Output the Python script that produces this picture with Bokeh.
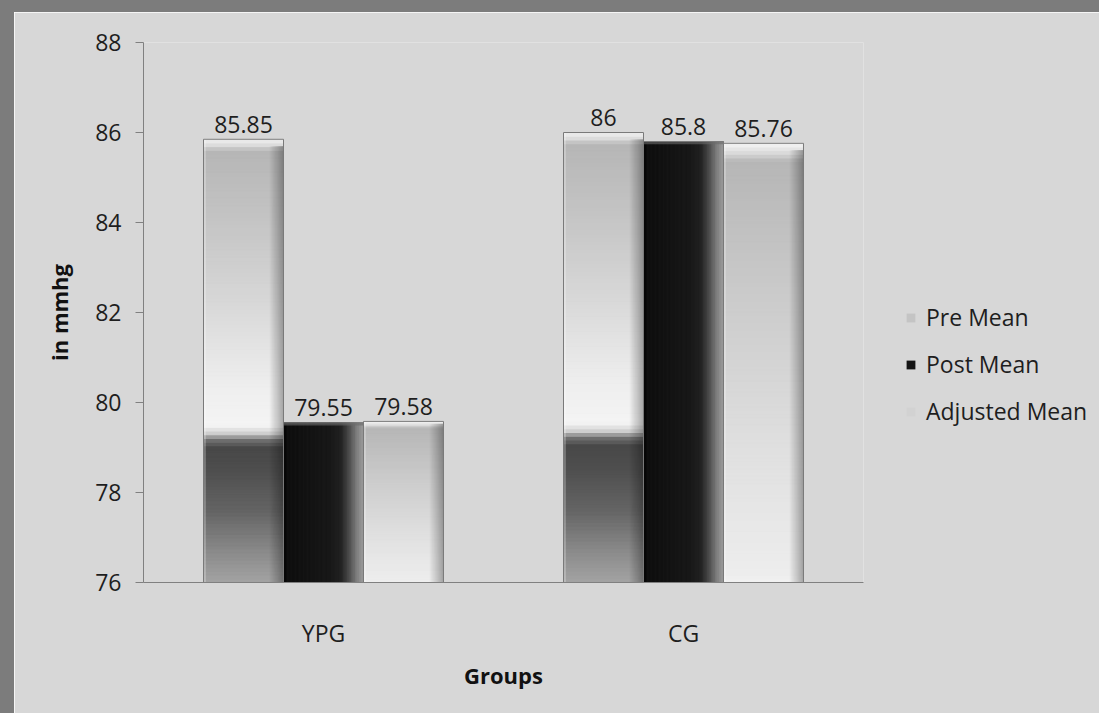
from bokeh.plotting import figure
from bokeh.models import ColumnDataSource, FixedTicker, Legend, LegendItem, Range1d
from bokeh.embed import file_html
from bokeh.resources import INLINE
from bokeh.core.properties import value

# ---------------- data ----------------
groups = ["YPG", "CG"]
series = ["Pre Mean", "Post Mean", "Adjusted Mean"]
pre_mean = [85.85, 86.0]
post_mean = [79.55, 85.8]
adjusted_mean = [79.58, 85.76]
y_ticks = [76, 78, 80, 82, 84, 86, 88]
y_min, y_max = 76, 88

FONT = "Open Sans"
BG = "#d7d7d7"
FS = "23px"
FRAME_TOP, FRAME_LEFT = 12, 14

p = figure(frame_width=720, frame_height=540, output_backend="svg", toolbar_location=None,
           x_range=Range1d(0, len(groups)), y_range=Range1d(y_min, y_max),
           min_border_left=143 - FRAME_LEFT, min_border_right=232, min_border_top=42 - FRAME_TOP,
           min_border_bottom=131)
p.background_fill_color = BG
p.border_fill_color = BG
p.outline_line_color = None
p.grid.visible = False
p.styles = {"border-top": f"{FRAME_TOP}px solid #7c7c7c",
            "border-left": f"{FRAME_LEFT}px solid #7c7c7c"}


def hex2rgb(h):
    return tuple(int(h[i:i + 2], 16) for i in (1, 3, 5))


def interp(stops, t):
    for (t0, c0), (t1, c1) in zip(stops, stops[1:]):
        if t0 <= t <= t1:
            a = (t - t0) / (t1 - t0) if t1 > t0 else 0.0
            rgb = [round(x0 + (x1 - x0) * a) for x0, x1 in zip(hex2rgb(c0), hex2rgb(c1))]
            return "#%02x%02x%02x" % tuple(rgb)
    return stops[-1][1]


# shading styles (fraction of bar, colour)
pre_stops_v = [(0.0, "#a4a4a4"), (0.06, "#8e8e8e"), (0.16, "#656565"), (0.26, "#4d4d4d"),
               (0.305, "#484848"), (0.322, "#707070"), (0.338, "#d2d2d2"), (0.355, "#f4f4f4"),
               (0.45, "#eeeeee"), (0.62, "#d9d9d9"), (0.82, "#c4c4c4"), (0.975, "#b6b6b6"),
               (0.985, "#d8d8d8"), (1.0, "#f0f0f0")]
post_stops_h = [(0.0, "#030303"), (0.06, "#0f0f0f"), (0.55, "#181818"), (0.72, "#222222"),
                (0.82, "#4a4a4a"), (0.92, "#7e7e7e"), (1.0, "#9c9c9c")]
adj_stops_v = [(0.0, "#f2f2f2"), (0.02, "#ededed"), (0.3, "#e0e0e0"), (0.65, "#cbcbcb"),
               (0.96, "#b6b6b6"), (0.98, "#dcdcdc"), (1.0, "#f4f4f4")]
edge_alpha_stops = [(0.0, 0.0), (0.82, 0.0), (0.92, 0.18), (1.0, 0.35)]

bw = 0.2222
values = [pre_mean, post_mean, adjusted_mean]
base_colors = ["#c4c4c4", "#141414", "#d2d2d2"]

strips = dict(left=[], right=[], bottom=[], top=[], color=[])
overlay = dict(left=[], right=[], bottom=[], top=[], color=[], alpha=[])


def add_strip(l, r, b, t, c):
    strips["left"].append(l); strips["right"].append(r)
    strips["bottom"].append(b); strips["top"].append(t)
    strips["color"].append(c)


def add_overlay(l, r, b, t, c, a):
    overlay["left"].append(l); overlay["right"].append(r)
    overlay["bottom"].append(b); overlay["top"].append(t)
    overlay["color"].append(c); overlay["alpha"].append(a)


def edge_alpha(t):
    for (t0, a0), (t1, a1) in zip(edge_alpha_stops, edge_alpha_stops[1:]):
        if t0 <= t <= t1:
            return a0 + (a1 - a0) * ((t - t0) / (t1 - t0))
    return 0.0


legend_renderers = []
bar_src_all = []
for s, vals in enumerate(values):
    lefts = [g + 0.5 + (s - 1) * bw - bw / 2 for g in range(len(groups))]
    rights = [l + bw for l in lefts]
    src = ColumnDataSource(dict(left=lefts, right=rights, bottom=[y_min] * len(vals), top=vals))
    r = p.quad(left="left", right="right", bottom="bottom", top="top", source=src,
               fill_color=base_colors[s], line_color=None)
    legend_renderers.append(r)
    bar_src_all.append(src)
    for l, rr, v in zip(lefts, rights, vals):
        h = v - y_min
        if s == 0 or s == 2:
            stops = pre_stops_v if s == 0 else adj_stops_v
            n = 120
            for k in range(n):
                f0, f1 = k / n, (k + 1) / n
                add_strip(l, rr, y_min + f0 * h, y_min + f1 * h, interp(stops, (f0 + f1) / 2))
            m = 16
            for k in range(m):
                f0, f1 = 0.8 + 0.2 * k / m, 0.8 + 0.2 * (k + 1) / m
                add_overlay(l + f0 * bw, l + f1 * bw, y_min, v - 0.015 * h, "#000000",
                            edge_alpha((f0 + f1) / 2))
            add_overlay(l, l + 0.03 * bw, y_min, v, "#ffffff", 0.25)
        else:
            n = 60
            for k in range(n):
                f0, f1 = k / n, (k + 1) / n
                add_strip(l + f0 * bw, l + f1 * bw, y_min, v, interp(post_stops_h, (f0 + f1) / 2))
            add_overlay(l, rr, v - min(0.02 * h, 0.06), v, "#6a6a6a", 0.6)

p.quad(left="left", right="right", bottom="bottom", top="top", fill_color="color",
       line_color="color", line_width=1, source=ColumnDataSource(strips))
p.quad(left="left", right="right", bottom="bottom", top="top", fill_color="color",
       fill_alpha="alpha", line_color=None, source=ColumnDataSource(overlay))

# outlines
for src in bar_src_all:
    p.quad(left="left", right="right", bottom="bottom", top="top", source=src,
           fill_color=None, line_color="#7a7a7a", line_width=1)

# value labels
lx, ly, lt = [], [], []
for s, vals in enumerate(values):
    for g, v in enumerate(vals):
        lx.append(g + 0.5 + (s - 1) * bw)
        ly.append(v)
        lt.append(f"{v:g}")
p.text(x="x", y="y", text="t", source=ColumnDataSource(dict(x=lx, y=ly, t=lt)),
       text_align="center", text_baseline="alphabetic", y_offset=-15,
       text_font=value(FONT), text_font_size=FS, text_color="#1e1e1e")

# axes
p.yaxis.ticker = FixedTicker(ticks=y_ticks)
p.yaxis.minor_tick_line_color = None
p.yaxis.major_tick_in = 0
p.yaxis.major_tick_out = 8
p.yaxis.major_label_standoff = 14
p.yaxis.axis_label = "in mmhg"
p.yaxis.axis_label_standoff = 18

p.xaxis.ticker = FixedTicker(ticks=[g + 0.5 for g in range(len(groups))])
p.xaxis.major_label_overrides = {g + 0.5: name for g, name in enumerate(groups)}
p.xaxis.minor_tick_line_color = None
p.xaxis.major_label_standoff = 28
p.xaxis.axis_label = "Groups"
p.xaxis.axis_label_standoff = 8

for ax in (p.xaxis, p.yaxis):
    ax.axis_line_color = "#808080"
    ax.major_label_text_font = FONT
    ax.major_label_text_font_size = FS
    ax.major_label_text_color = "#1e1e1e"
    ax.axis_label_text_font = FONT
    ax.axis_label_text_font_size = "22px"
    ax.axis_label_text_font_style = "bold"
    ax.axis_label_text_color = "#111111"
p.yaxis.major_tick_line_color = "#808080"
p.xaxis.major_tick_line_color = None

legend = Legend(items=[LegendItem(label=name, renderers=[r]) for name, r in zip(series, legend_renderers)],
                location=(42, 155), orientation="vertical",
                background_fill_alpha=0, border_line_color=None,
                label_text_font=FONT, label_text_font_size=FS, label_text_color="#1e1e1e",
                glyph_width=11, glyph_height=11, label_height=24, spacing=15,
                padding=0, margin=0, label_standoff=10)
p.add_layout(legend, "right")

open("out.html", "w").write(file_html(p, INLINE))
